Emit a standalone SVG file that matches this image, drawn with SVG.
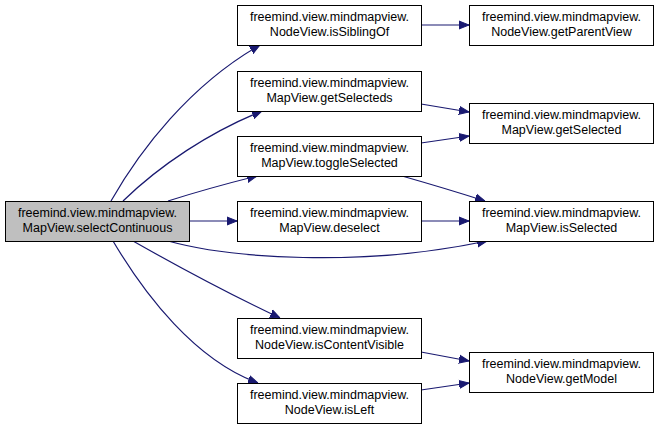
<svg xmlns="http://www.w3.org/2000/svg" width="659" height="429" viewBox="0 0 659 429">
<style>
.n rect{fill:#ffffff;stroke:#000000;stroke-width:1}
.n.main rect{fill:#bfbfbf}
.n text{font-family:"Liberation Sans",Arial,sans-serif;font-size:12.5px;text-anchor:middle;fill:#000000}
.e path{fill:none;stroke:#191970;stroke-width:1.2}
</style>
<defs>
<marker id="ah" viewBox="0 0 10 10" refX="10" refY="5" markerWidth="10" markerHeight="10" markerUnits="userSpaceOnUse" orient="auto">
<path d="M0,1 L10,5 L0,9 Z" fill="#191970" stroke="#191970"/>
</marker>
</defs>
<rect width="659" height="429" fill="#ffffff"/>
<g id="connectors" class="e">
<path marker-end="url(#ah)" d="M111,201 C140,150 190,85 260,45"/>
<path marker-end="url(#ah)" d="M123,201 C160,165 210,132 262,111"/>
<path marker-end="url(#ah)" d="M168,201 C190,194 225,184 257,176"/>
<path marker-end="url(#ah)" d="M189,221 L237,221"/>
<path marker-end="url(#ah)" d="M168,241 C230,258 360,268 487,241"/>
<path marker-end="url(#ah)" d="M133,241 C170,262 225,292 280,318"/>
<path marker-end="url(#ah)" d="M113,241 C145,295 195,360 258,383"/>
<path marker-end="url(#ah)" d="M421,25 L469,25"/>
<path marker-end="url(#ah)" d="M421,104 L469,112"/>
<path marker-end="url(#ah)" d="M421,143 L469,136"/>
<path marker-end="url(#ah)" d="M402,176 C430,184 460,193 485,201"/>
<path marker-end="url(#ah)" d="M421,221 L469,221"/>
<path marker-end="url(#ah)" d="M421,352 L469,361"/>
<path marker-end="url(#ah)" d="M421,390 L469,383"/>
</g>
<g id="selectContinuous" class="n main"><rect x="5.5" y="201.5" width="184" height="40"/><text x="97.5" y="217">freemind.view.mindmapview.</text><text x="97.5" y="232">MapView.selectContinuous</text></g>
<g id="isSiblingOf" class="n"><rect x="237.5" y="5.5" width="184" height="40"/><text x="329.5" y="21">freemind.view.mindmapview.</text><text x="329.5" y="36">NodeView.isSiblingOf</text></g>
<g id="getSelecteds" class="n"><rect x="237.5" y="71.5" width="184" height="40"/><text x="329.5" y="87">freemind.view.mindmapview.</text><text x="329.5" y="102">MapView.getSelecteds</text></g>
<g id="toggleSelected" class="n"><rect x="237.5" y="136.5" width="184" height="40"/><text x="329.5" y="152">freemind.view.mindmapview.</text><text x="329.5" y="167">MapView.toggleSelected</text></g>
<g id="deselect" class="n"><rect x="237.5" y="201.5" width="184" height="40"/><text x="329.5" y="217">freemind.view.mindmapview.</text><text x="329.5" y="232">MapView.deselect</text></g>
<g id="isContentVisible" class="n"><rect x="237.5" y="318.5" width="184" height="40"/><text x="329.5" y="334">freemind.view.mindmapview.</text><text x="329.5" y="349">NodeView.isContentVisible</text></g>
<g id="isLeft" class="n"><rect x="237.5" y="383.5" width="184" height="40"/><text x="329.5" y="399">freemind.view.mindmapview.</text><text x="329.5" y="414">NodeView.isLeft</text></g>
<g id="getParentView" class="n"><rect x="469.5" y="5.5" width="184" height="40"/><text x="561.5" y="21">freemind.view.mindmapview.</text><text x="561.5" y="36">NodeView.getParentView</text></g>
<g id="getSelected" class="n"><rect x="469.5" y="103.5" width="184" height="40"/><text x="561.5" y="119">freemind.view.mindmapview.</text><text x="561.5" y="134">MapView.getSelected</text></g>
<g id="isSelected" class="n"><rect x="469.5" y="201.5" width="184" height="40"/><text x="561.5" y="217">freemind.view.mindmapview.</text><text x="561.5" y="232">MapView.isSelected</text></g>
<g id="getModel" class="n"><rect x="469.5" y="352.5" width="184" height="40"/><text x="561.5" y="368">freemind.view.mindmapview.</text><text x="561.5" y="383">NodeView.getModel</text></g>
</svg>
